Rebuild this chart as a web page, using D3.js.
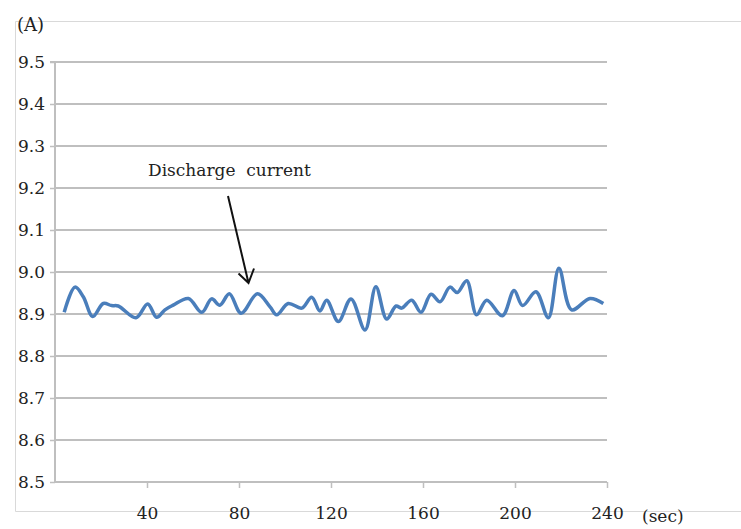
<!DOCTYPE html>
<html>
<head>
<meta charset="utf-8">
<script src="https://cdn.jsdelivr.net/npm/d3@7"></script>
<style>
  body { margin: 0; background: #fff; }
  text { font-family: "DejaVu Serif", serif; fill: #222; }
</style>
</head>
<body>
<div class="container"></div>
<script>
const WIDTH = 741;
const HEIGHT = 529;

// time (sec) and discharge current (A)
var time = [4, 8.7, 12.3, 16.4, 21, 24.6, 27.5, 35.2, 40.3, 44.2, 47.8, 51.4, 58, 63.8, 68.1, 71.7,
    75.8, 80.9, 88, 93.5, 96.4, 101.4, 107.3, 111.6, 115.2, 118.1, 123.2, 128.7, 134.8, 139.5,
    144.2, 148.3, 150.7, 155.1, 159.1, 163.5, 167.4, 171.7, 174.9, 179, 183.3, 187.7, 194.5,
    199.6, 203.3, 209.1, 214.5, 219.1, 224.6, 232.6, 238.4];
var current = [8.904, 8.964, 8.941, 8.894, 8.925, 8.920, 8.919, 8.891, 8.924, 8.892, 8.910, 8.921,
    8.937, 8.904, 8.936, 8.921, 8.948, 8.902, 8.948, 8.917, 8.898, 8.925, 8.914, 8.940, 8.907,
    8.933, 8.882, 8.936, 8.862, 8.965, 8.888, 8.919, 8.914, 8.933, 8.904, 8.947, 8.929, 8.964,
    8.951, 8.979, 8.898, 8.933, 8.896, 8.956, 8.920, 8.953, 8.891, 9.009, 8.910, 8.937, 8.925];
var yTicks = [8.5, 8.6, 8.7, 8.8, 8.9, 9.0, 9.1, 9.2, 9.3, 9.4, 9.5];
var xTicks = [40, 80, 120, 160, 200, 240];

var translate = function(x, y) {
    return `translate(${x},${y})`;
};

var svg = d3.select('.container').append('svg')
    .attr('width', WIDTH)
    .attr('height', HEIGHT);

let xScale = d3.scaleLinear().domain([0, 240]).range([55, 607]);
let yScale = d3.scaleLinear().domain([8.5, 9.5]).range([482, 62]);

// outer frame
svg.append('path')
    .attr('d', 'M741,21.5H15.5V511.5H741')
    .attr('fill', 'none')
    .attr('stroke', '#d9d9d9')
    .attr('stroke-width', 1);

// gridlines
svg.append('g').selectAll('line').data(yTicks.slice(1)).enter()
    .append('line')
    .attr('x1', xScale(0)).attr('x2', xScale(240))
    .attr('y1', (d) => yScale(d)).attr('y2', (d) => yScale(d))
    .attr('stroke', '#bfbfbf')
    .attr('stroke-width', 2);

let yAxis = d3.axisLeft(yScale).tickValues(yTicks).tickFormat(d3.format('.1f'))
    .tickSize(5).tickPadding(5);
let xAxis = d3.axisBottom(xScale).tickValues(xTicks).tickSize(6).tickPadding(19);

var gy = svg.append('g').attr('transform', translate(xScale(0), 0)).call(yAxis);
var gx = svg.append('g').attr('transform', translate(0, yScale(8.5))).call(xAxis);

[gx, gy].forEach(function(g) {
    g.select('.domain').attr('stroke', '#bfbfbf').attr('stroke-width', 2);
    g.selectAll('.tick line').attr('stroke', '#bfbfbf').attr('stroke-width', 1.5);
    g.selectAll('.tick text').attr('font-size', 17).attr('fill', '#222')
        .attr('font-family', '"DejaVu Serif", serif');
});
gy.select('.domain').attr('d', `M-5,${yScale(9.5)}H0V${yScale(8.5)}`);
gx.select('.domain').attr('d', `M${xScale(0)},0H${xScale(240)}`);

svg.append('text').attr('x', 17).attr('y', 31).attr('font-size', 18).text('(A)');
svg.append('text').attr('x', 642).attr('y', 522).attr('font-size', 17).text('(sec)');

// the series
var line = d3.line()
    .x((d, i) => xScale(time[i]))
    .y((d) => yScale(d))
    .curve(d3.curveCatmullRom.alpha(0.5));

svg.append('path')
    .attr('d', line(current))
    .attr('fill', 'none')
    .attr('stroke', '#4a7ebb')
    .attr('stroke-width', 3.5)
    .attr('stroke-linejoin', 'round');

// annotation
svg.append('text')
    .attr('x', 148).attr('y', 176)
    .attr('font-size', 17)
    .style('white-space', 'pre')
    .text('Discharge  current');

svg.append('path')
    .attr('d', 'M228,196L248.5,283M238.5,273.5L248.5,283L254,268.5')
    .attr('fill', 'none')
    .attr('stroke', '#111')
    .attr('stroke-width', 2);
</script>
</body>
</html>
